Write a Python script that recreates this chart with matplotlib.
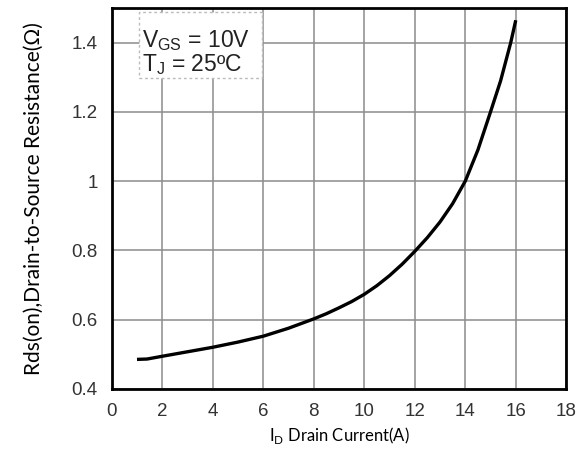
import numpy as np
import matplotlib.pyplot as plt
from matplotlib.patches import Rectangle

# Rds(on) vs drain current
I_D = [1, 1.4, 2, 3, 4, 5, 6, 7, 8, 8.5, 9, 9.5, 10, 10.5, 11, 11.5, 12, 12.5,
       13, 13.5, 14, 14.5, 15, 15.4, 15.8, 16]
RDS = [0.485, 0.486, 0.494, 0.507, 0.52, 0.535, 0.552, 0.575, 0.602, 0.617,
       0.634, 0.652, 0.673, 0.698, 0.727, 0.76, 0.797, 0.837, 0.882, 0.935,
       1.0, 1.09, 1.2, 1.29, 1.4, 1.465]

x_ticks = [0, 2, 4, 6, 8, 10, 12, 14, 16, 18]
y_ticks = [0.4, 0.6, 0.8, 1.0, 1.2, 1.4]
y_tick_labels = ['0.4', '0.6', '0.8', '1', '1.2', '1.4']

fig = plt.figure(figsize=(5.79, 4.5), dpi=100)
ax = fig.add_axes([0.193, 0.136, 0.785, 0.846])

ax.plot(I_D, RDS, color='black', linewidth=2.4, solid_capstyle='butt',
        solid_joinstyle='round', zorder=3)

ax.set_xlim(0, 18)
ax.set_ylim(0.4, 1.5)
ax.set_xticks(x_ticks)
ax.set_yticks(y_ticks)
ax.set_yticklabels(y_tick_labels)
ax.grid(True, color='#8c8c8c', linewidth=1.1)
ax.set_axisbelow(True)
ax.tick_params(length=0, pad=10, labelsize=13.5, labelcolor='#333333')
for lab in ax.get_xticklabels() + ax.get_yticklabels():
    lab.set_fontfamily('Liberation Sans')
for s in ax.spines.values():
    s.set_linewidth(2)
    s.set_color('black')

# condition box
box = Rectangle((1.08, 1.298), 4.87, 0.19, facecolor='white', edgecolor='#bbbbbb',
                linestyle=(0, (2, 2)), linewidth=1, zorder=2)
ax.add_patch(box)
ax.text(1.2, 1.405, r'V$_{\mathregular{GS}}$ = 10V', fontsize=16.5, family='Liberation Sans',
        color='#222222', va='center', zorder=4)
ax.text(1.2, 1.338, r'T$_{\mathregular{J}}$ = 25ºC', fontsize=16.5, family='Liberation Sans',
        color='#222222', va='center', zorder=4)

ax.set_xlabel(r'I$_{\mathregular{D}}$ Drain Current(A)', fontsize=12, family='Lato', labelpad=4)
ax.set_ylabel('Rds(on),Drain-to-Source Resistance(Ω)', fontsize=15, family='Lato', labelpad=20)

fig.savefig('out.png', dpi=100)
